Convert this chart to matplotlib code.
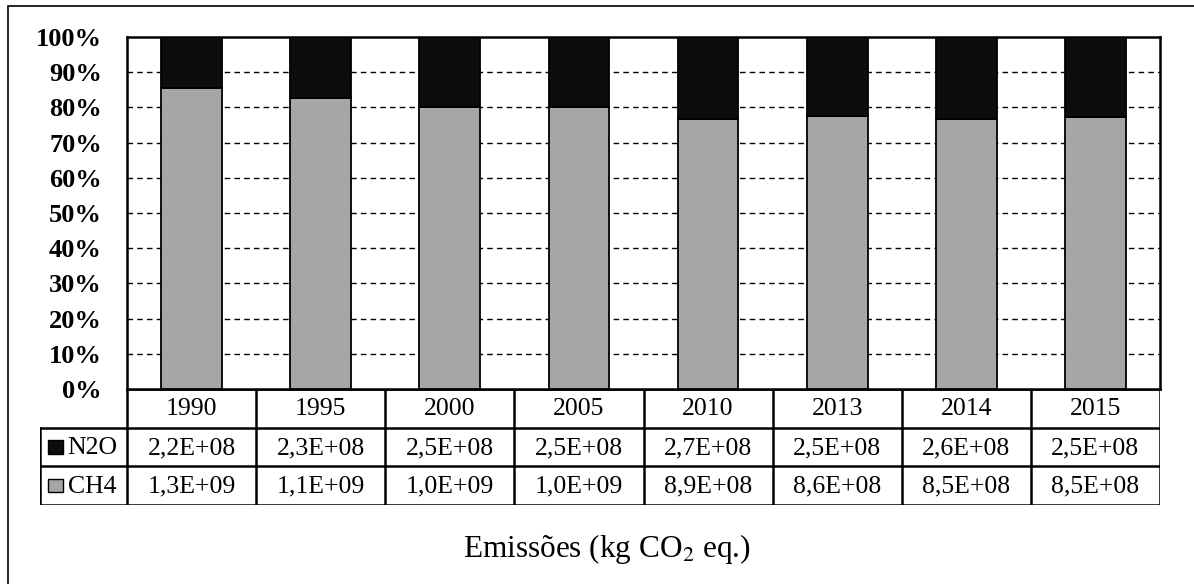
import numpy as np
import matplotlib.pyplot as plt
from matplotlib.patches import Rectangle

plt.rcParams['font.family'] = ['Liberation Serif', 'DejaVu Serif']

years = ['1990', '1995', '2000', '2005', '2010', '2013', '2014', '2015']
n2o = [2.2e8, 2.3e8, 2.5e8, 2.5e8, 2.7e8, 2.5e8, 2.6e8, 2.5e8]
ch4 = [1.3e9, 1.1e9, 1.0e9, 1.0e9, 8.9e8, 8.6e8, 8.5e8, 8.5e8]
series = ['N2O', 'CH4']
colors = {'N2O': '#0d0d0d', 'CH4': '#a6a6a6'}


def sci(v):
    # Excel-style scientific notation with decimal comma
    return '{:.1E}'.format(v).replace('.', ',')


n2o = np.array(n2o)
ch4 = np.array(ch4)
total = n2o + ch4
ch4_pct = ch4 / total * 100
n2o_pct = n2o / total * 100

W, H = 1194, 584
fig = plt.figure(figsize=(W / 100, H / 100), dpi=100)

# outer frame (runs off the right and bottom edges)
fig.patches.append(Rectangle((8 / W, -0.1), 1.2, 1 - 6 / H + 0.1, transform=fig.transFigure,
                             fill=False, edgecolor='black', lw=1.2))

left, right, top, bottom = 127, 1160, 37, 389
ax = fig.add_axes([left / W, 1 - bottom / H, (right - left) / W, (bottom - top) / H])
x = np.arange(len(years))
ax.bar(x, ch4_pct, width=0.47, color=colors['CH4'], edgecolor='black', lw=1.3, zorder=3)
ax.bar(x, n2o_pct, bottom=ch4_pct, width=0.47, color=colors['N2O'], edgecolor='black',
       lw=1.3, zorder=3)
ax.set_xlim(-0.5, len(years) - 0.5)
ax.set_ylim(0, 100)
ax.set_yticks(np.arange(0, 101, 10))
ax.set_yticklabels(['{}%'.format(v) for v in range(0, 101, 10)], fontsize=19,
                   fontweight='bold')
ax.tick_params(axis='y', length=0, pad=18)
ax.set_xticks([])
for v in range(10, 100, 10):
    ax.axhline(v, color='black', lw=1, ls=(0, (4, 3)), zorder=1)
for s in ax.spines.values():
    s.set_color('black')
    s.set_linewidth(1.8)

# data table under the bars
leg_w = (left - 40) / ((right - left) / len(years))
tax = fig.add_axes([40 / W, 1 - 505 / H, (right - 40) / W, (505 - bottom) / H])
tax.set_xlim(-0.5 - leg_w, len(years) - 0.5)
tax.set_ylim(3, 0)
tax.axis('off')
lk = dict(color='black', lw=1.8, solid_capstyle='projecting')
for r in range(1, 4):
    tax.plot([-0.5 - leg_w, len(years) - 0.5], [r, r], **lk)
tax.plot([-0.5, len(years) - 0.5], [0, 0], **lk)
for i in range(len(years) + 1):
    tax.plot([i - 0.5, i - 0.5], [0, 3], **lk)
tax.plot([-0.5 - leg_w, -0.5 - leg_w], [1, 3], **lk)

for i, yr in enumerate(years):
    tax.text(i, 0.53, yr, ha='center', va='center', fontsize=18.5)
    tax.text(i, 1.53, sci(n2o[i]), ha='center', va='center', fontsize=18.5)
    tax.text(i, 2.53, sci(ch4[i]), ha='center', va='center', fontsize=18.5)

for r, name in enumerate(series, start=1):
    tax.add_patch(Rectangle((-0.5 - leg_w + 0.065, r + 0.5 - 0.17), 0.11, 0.34,
                            facecolor=colors[name], edgecolor='black', lw=1))
    tax.text(-0.5 - leg_w + 0.215, r + 0.53, name, ha='left', va='center', fontsize=18.5)

fig.text(607 / W, 1 - 549 / H, 'Emissões (kg CO$_2$ eq.)', ha='center', va='center',
         fontsize=22.5, math_fontfamily='stix')

fig.savefig('out.png', dpi=100)
